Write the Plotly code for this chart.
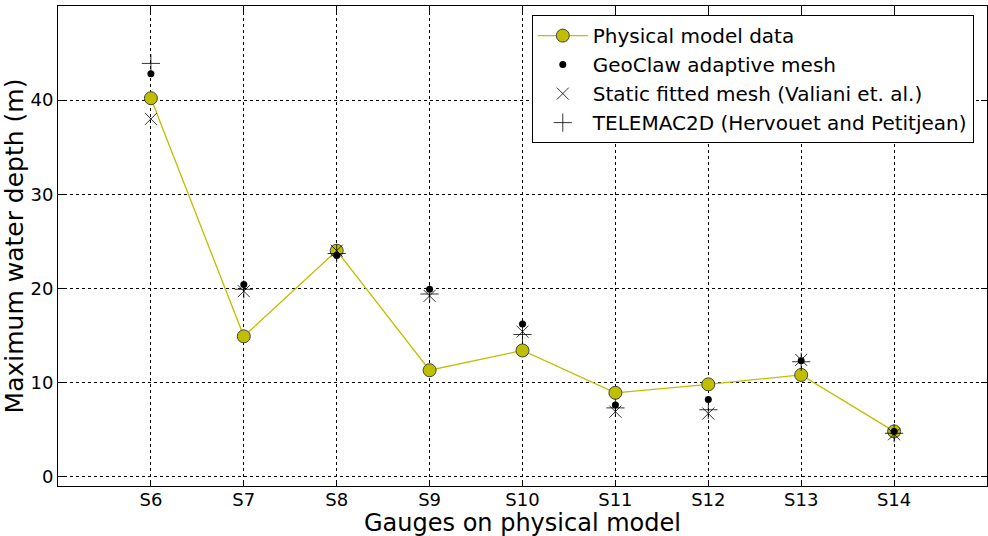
import plotly.graph_objects as go

gauges = ["S6", "S7", "S8", "S9", "S10", "S11", "S12", "S13", "S14"]
physical = [40.2, 14.9, 24.0, 11.3, 13.4, 8.9, 9.8, 10.8, 4.8]
geoclaw = [42.8, 20.4, 23.5, 19.9, 16.2, 7.6, 8.2, 12.3, 4.8]
valiani = [38.0, 19.7, 24.0, 19.2, 15.4, 6.9, 6.7, 12.4, 4.5]
telemac = [43.9, 19.9, 23.7, 19.4, 15.1, 7.3, 7.1, 12.2, 4.6]
yticks = [0, 10, 20, 30, 40, 50]

font = "DejaVu Sans"
fig = go.Figure()
fig.add_trace(go.Scatter(
    x=gauges, y=physical, mode="lines+markers", name="Physical model data",
    line=dict(color="#bfbf00", width=1.3),
    marker=dict(symbol="circle", size=13, color="#bfbf00",
                line=dict(color="#444444", width=1))))
fig.add_trace(go.Scatter(
    x=gauges, y=geoclaw, mode="markers", name="GeoClaw adaptive mesh",
    marker=dict(symbol="circle", size=7, color="black")))
fig.add_trace(go.Scatter(
    x=gauges, y=valiani, mode="markers", name="Static fitted mesh (Valiani et. al.)",
    marker=dict(symbol="x-thin", size=12, color="black",
                line=dict(color="black", width=0.8))))
fig.add_trace(go.Scatter(
    x=gauges, y=telemac, mode="markers", name="TELEMAC2D (Hervouet and Petitjean)",
    marker=dict(symbol="cross-thin", size=13, color="black",
                line=dict(color="black", width=0.8))))

axis_common = dict(
    showline=True, linecolor="black", linewidth=1, mirror="ticks",
    ticks="inside", ticklen=6, tickcolor="black",
    showgrid=True, gridcolor="black", gridwidth=1, griddash="dot",
    zeroline=False, tickfont=dict(family=font, size=18, color="black"),
    automargin=False,
)
fig.update_xaxes(type="category", range=[-1, 9], categoryorder="array",
                 categoryarray=gauges, ticklabelstandoff=-3,
                 **axis_common)
fig.update_yaxes(range=[-1, 50], tickvals=yticks,
                 title=dict(text="Maximum water depth (m)",
                            font=dict(family=font, size=25, color="black"),
                            standoff=6),
                 **axis_common)
fig.add_annotation(text="Gauges on physical model", xref="paper", yref="paper",
                   x=0.5, y=-50 / 480, xanchor="center", yanchor="bottom",
                   yshift=-3, showarrow=False,
                   font=dict(family=font, size=24, color="black"))
fig.update_layout(
    width=988, height=536, autosize=False,
    margin=dict(l=58, r=1, t=6, b=50),
    paper_bgcolor="white", plot_bgcolor="white",
    font=dict(family=font, color="black"),
    legend=dict(x=0.51, y=0.981, xanchor="left", yanchor="top",
                bordercolor="black", borderwidth=1, bgcolor="white",
                font=dict(family=font, size=20, color="black"),
                itemwidth=50, tracegroupgap=0),
    showlegend=True,
)
post = ("document.body.style.margin='0';document.body.style.overflow='hidden';"
        "Plotly.relayout('{plot_id}', {width: 988, height: 536});")
fig.write_html("out.html", post_script=post,
               config={"responsive": False, "displayModeBar": False})
